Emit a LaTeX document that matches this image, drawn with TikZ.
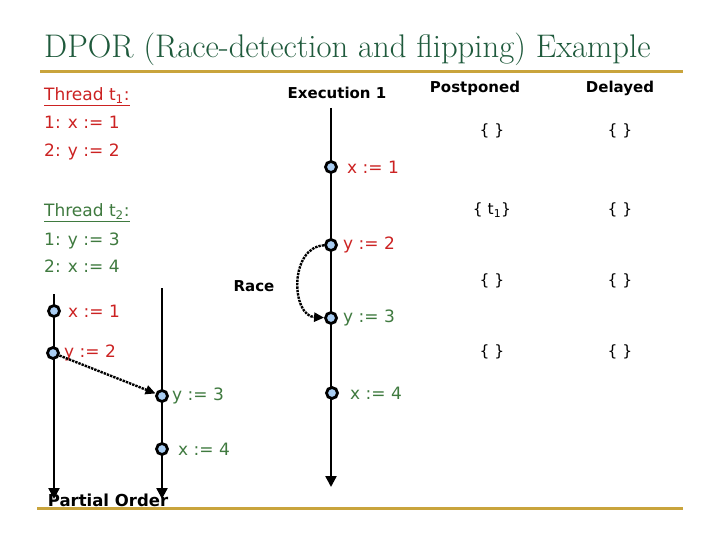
\documentclass[tikz,border=0pt]{standalone}
\usepackage{fontspec}
\usepackage{tikz}
\usetikzlibrary{arrows.meta}
\newfontfamily\handfont{DejaVu Sans}
\definecolor{titlegreen}{HTML}{1F5A3C}
\definecolor{rulegold}{HTML}{C9A43C}
\definecolor{threadred}{HTML}{CC2222}
\definecolor{threadgreen}{HTML}{3F7A3F}
\definecolor{eventblue}{HTML}{A9CDF2}
\newcommand{\titletext}{\fontsize{32.7}{38}\selectfont}
\newcommand{\stmttext}{\handfont\fontsize{17}{20}\selectfont}
\newcommand{\headtext}{\handfont\fontsize{15}{18}\selectfont\bfseries}
\newcommand{\settext}{\handfont\fontsize{15.5}{18}\selectfont}

\tikzset{
  event/.style={circle,draw=black,fill=eventblue,line width=2.8pt,inner sep=0pt,minimum size=11pt},
  timeline/.style={line width=2.4pt,-{Triangle[length=11pt,width=11pt]}},
  racearrow/.style={densely dotted,line width=2.4pt,-{Triangle[length=10pt,width=9pt]}},
  stmt/.style={anchor=base west,inner sep=0pt,font=\stmttext},
  head/.style={inner sep=0pt,font=\headtext},
  setcell/.style={inner sep=0pt,font=\settext}
}

\begin{document}
\begin{tikzpicture}[x=1pt,y=-1pt]
\useasboundingbox[fill=white] (0,0) rectangle (720,540);

% title and rules
\node[anchor=base west,inner sep=0pt,text=titlegreen,font=\titletext] (title) at (44,58) {DPOR (Race-detection and flipping) Example};
\draw[rulegold,line width=3pt] (40,72) -- (683,72);
\draw[rulegold,line width=3pt] (37,508) -- (683,508);

% the two threads
\node[stmt,text=threadred] (t1name) at (44,101) {\underline{Thread t\textsubscript{1}:}};
\node[stmt,text=threadred] (t1a) at (44,129) {1: x := 1};
\node[stmt,text=threadred] (t1b) at (44,157) {2: y := 2};
\node[stmt,text=threadgreen] (t2name) at (44,217) {\underline{Thread t\textsubscript{2}:}};
\node[stmt,text=threadgreen] (t2a) at (44,245) {1: y := 3};
\node[stmt,text=threadgreen] (t2b) at (44,272) {2: x := 4};

% execution 1
\node[head] (exechead) at (337,93) {Execution 1};
\coordinate (etop) at (331,108);
\coordinate (ebot) at (331,487);
\draw[timeline] (etop) -- (ebot);
\node[event] (e1) at (331,167) {};
\node[event] (e2) at (331,245) {};
\node[event] (e3) at (331,318) {};
\node[event] (e4) at (332,393) {};
\node[stmt,anchor=west,text=threadred] (e1lbl) at (347,167) {x := 1};
\node[stmt,anchor=west,text=threadred] (e2lbl) at (343,245) {y := 2};
\node[stmt,anchor=west,text=threadgreen] (e3lbl) at (343,318) {y := 3};
\node[stmt,anchor=west,text=threadgreen] (e4lbl) at (350,393) {x := 4};
\draw[racearrow] (e2) .. controls +(-42,2) and +(-40,-2) .. (e3);
\node[head] (race) at (254,286) {Race};

% partial order
\coordinate (pltop) at (54,294);
\coordinate (plbot) at (54,499);
\coordinate (prtop) at (162,288);
\coordinate (prbot) at (162,499);
\draw[timeline] (pltop) -- (plbot);
\draw[timeline] (prtop) -- (prbot);
\node[event] (p1) at (54,311) {};
\node[event] (p2) at (53,353) {};
\node[event] (q1) at (162,396) {};
\node[event] (q2) at (162,449) {};
\node[stmt,anchor=west,text=threadred] (p1lbl) at (68,311) {x := 1};
\node[stmt,anchor=west,text=threadred] (p2lbl) at (64,353) {y := 2};
\node[stmt,anchor=west,text=threadgreen] (q1lbl) at (172,396) {y := 3};
\node[stmt,anchor=west,text=threadgreen] (q2lbl) at (178,449) {x := 4};
\draw[racearrow] (p2) -- (q1);
\node[head,font=\headtext\fontsize{16.5}{19}\selectfont] (pohead) at (108,500) {Partial Order};

% postponed / delayed sets
\node[head] (posthead) at (475,88) {Postponed};
\node[head] (delhead) at (620,88) {Delayed};
\node[setcell] (post1) at (492,131) {\{ \}};
\node[setcell] (del1) at (620,131) {\{ \}};
\node[setcell] (post2) at (492,210) {\{ t\textsubscript{1}\}};
\node[setcell] (del2) at (620,210) {\{ \}};
\node[setcell] (post3) at (492,281) {\{ \}};
\node[setcell] (del3) at (620,281) {\{ \}};
\node[setcell] (post4) at (492,352) {\{ \}};
\node[setcell] (del4) at (620,352) {\{ \}};
\end{tikzpicture}
\end{document}
